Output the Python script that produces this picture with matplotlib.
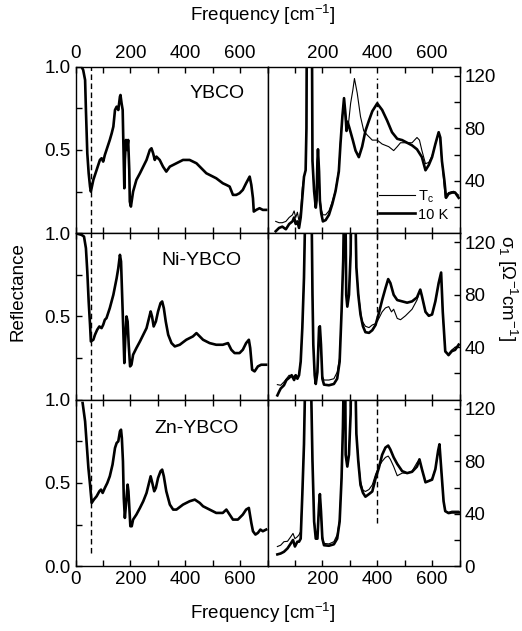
import matplotlib
matplotlib.use('Agg')
import matplotlib.pyplot as plt
from matplotlib.ticker import MultipleLocator, FixedLocator

plt.rcParams['font.family'] = ['Liberation Sans', 'DejaVu Sans']
plt.rcParams['mathtext.default'] = 'regular'

# reflectance (left column)
ybco_f = [4, 22, 28, 35, 38, 43, 48, 53, 56, 65, 77, 89, 95, 101, 107, 113, 125, 132, 138, 144,
          150, 156, 162, 164, 168, 172, 174, 178, 180, 184, 188, 192, 196, 198, 202, 210, 222, 235, 247, 259,
          271, 277, 283, 289, 295, 301, 307, 319, 331, 344, 368, 392, 404, 416, 441, 465, 477, 489, 513, 537,
          550, 562, 574, 586, 598, 610, 622, 635, 641, 647, 650, 659, 671, 683, 695]
ybco_r = [1.0, 1.0, 0.98, 0.92, 0.74, 0.48, 0.36, 0.28, 0.25, 0.32, 0.38, 0.44, 0.45, 0.43, 0.47, 0.5, 0.56, 0.6, 0.64, 0.74,
          0.76, 0.74, 0.82, 0.83, 0.78, 0.74, 0.58, 0.27, 0.44, 0.56, 0.5, 0.56, 0.38, 0.19, 0.16, 0.25, 0.32, 0.36, 0.4, 0.44,
          0.5, 0.51, 0.48, 0.44, 0.46, 0.45, 0.44, 0.4, 0.37, 0.4, 0.42, 0.44, 0.44, 0.44, 0.42, 0.38, 0.36, 0.35, 0.33, 0.3,
          0.29, 0.28, 0.23, 0.23, 0.24, 0.26, 0.3, 0.34, 0.29, 0.21, 0.13, 0.14, 0.15, 0.14, 0.14]

ni_f = [0, 22, 31, 38, 43, 48, 53, 56, 65, 71, 79, 87, 95, 101, 107, 113, 125, 138, 150, 156,
        162, 166, 170, 174, 178, 181, 186, 190, 194, 199, 204, 210, 222, 235, 247, 259, 268, 274, 279, 285,
        293, 301, 310, 316, 322, 329, 338, 350, 362, 380, 404, 428, 441, 453, 465, 489, 513, 537, 556, 568,
        580, 598, 610, 622, 632, 637, 644, 653, 665, 677, 695]
ni_r = [1.0, 0.99, 0.98, 0.91, 0.77, 0.59, 0.45, 0.35, 0.36, 0.39, 0.42, 0.44, 0.43, 0.45, 0.48, 0.49, 0.55, 0.63, 0.73, 0.79,
        0.87, 0.83, 0.63, 0.43, 0.22, 0.35, 0.5, 0.47, 0.33, 0.2, 0.21, 0.27, 0.31, 0.35, 0.39, 0.43, 0.49, 0.53, 0.5, 0.44,
        0.47, 0.53, 0.58, 0.59, 0.55, 0.47, 0.39, 0.34, 0.32, 0.33, 0.36, 0.38, 0.4, 0.38, 0.36, 0.34, 0.33, 0.33, 0.34, 0.3,
        0.28, 0.28, 0.3, 0.34, 0.36, 0.31, 0.18, 0.17, 0.2, 0.21, 0.21]

zn_f = [26, 35, 41, 47, 53, 59, 67, 77, 87, 93, 99, 107, 116, 125, 135, 144, 150, 156, 162, 166,
        169, 173, 176, 180, 184, 190, 193, 197, 200, 205, 210, 222, 235, 247, 259, 268, 274, 280, 287, 293,
        301, 310, 316, 322, 331, 344, 356, 368, 392, 416, 435, 453, 465, 489, 513, 537, 550, 562, 574, 592,
        610, 622, 632, 641, 647, 656, 665, 674, 683, 695]
zn_r = [0.98, 0.87, 0.73, 0.59, 0.49, 0.38, 0.4, 0.42, 0.45, 0.46, 0.44, 0.47, 0.5, 0.54, 0.61, 0.71, 0.74, 0.75, 0.81, 0.82,
        0.77, 0.63, 0.41, 0.29, 0.37, 0.49, 0.45, 0.33, 0.24, 0.24, 0.28, 0.31, 0.35, 0.39, 0.44, 0.5, 0.54, 0.5, 0.45, 0.47,
        0.53, 0.57, 0.58, 0.54, 0.45, 0.37, 0.34, 0.34, 0.37, 0.39, 0.4, 0.38, 0.36, 0.34, 0.32, 0.32, 0.34, 0.31, 0.28, 0.28,
        0.31, 0.34, 0.35, 0.26, 0.21, 0.19, 0.2, 0.22, 0.21, 0.22]

# optical conductivity (right column), thin = Tc, thick = 10 K
ybco_f_10k = [30, 42, 54, 67, 79, 91, 97, 103, 109, 115, 121, 125, 130, 133, 139, 142, 144, 151, 161, 164,
              170, 176, 179, 182, 184, 188, 191, 196, 202, 212, 224, 236, 248, 260, 266, 273, 279, 285, 288, 292,
              299, 311, 321, 333, 345, 357, 370, 382, 400, 418, 436, 454, 473, 491, 509, 527, 545, 563, 576, 588,
              600, 612, 624, 630, 636, 645, 651, 660, 672, 684, 697]
ybco_s_10k = [1.5, 4, 5, 3, 7, 9, 12, 7, 9, 4, 12, 22, 35, 43, 48, 80, 200, 250, 200, 55,
              32, 19.5, 25, 55, 64, 47, 25, 15, 9, 10, 14, 22, 32, 47, 68, 89, 103, 89, 78, 85,
              80, 71, 63, 58, 66, 78, 86, 93, 99, 94, 86, 77, 72, 71, 69, 67, 64, 58, 48, 52,
              58, 68, 77, 73, 55, 40, 27, 30, 31, 31, 27]
ybco_f_tc = [30, 42, 54, 67, 79, 91, 97, 103, 109, 115, 121, 127, 133, 139, 142, 144, 151, 161, 164, 170,
             176, 179, 182, 184, 188, 191, 196, 202, 212, 224, 236, 248, 260, 266, 273, 279, 285, 294, 303, 311,
             317, 327, 339, 351, 363, 382, 400, 418, 442, 460, 473, 485, 503, 527, 545, 554, 563, 576, 588, 600,
             612, 626, 636, 648, 660, 679, 697]
ybco_s_tc = [9, 8, 8, 9, 12, 14, 17, 12, 16, 9, 17, 35, 43, 48, 80, 200, 250, 200, 55, 32,
             21, 27, 55, 64, 48, 27, 18, 14, 14, 17, 24, 33, 49, 70, 90, 100, 84, 81, 99, 109,
             118, 107, 89, 78, 75, 71, 71, 68, 66, 63, 66, 69, 69, 69, 73, 71, 63, 53, 54, 59,
             68, 77, 55, 27, 31, 32, 29]

ni_f_10k = [36, 42, 48, 60, 69, 79, 88, 97, 103, 109, 115, 121, 127, 133, 139, 151, 160, 164, 167, 172,
            176, 182, 188, 191, 195, 200, 206, 224, 242, 254, 263, 270, 276, 280, 282, 287, 291, 297, 303, 306,
            311, 319, 324, 331, 339, 348, 357, 370, 382, 394, 406, 418, 430, 440, 448, 460, 473, 491, 509, 527,
            545, 557, 563, 576, 588, 600, 612, 624, 633, 639, 648, 660, 672, 684, 697]
ni_s_10k = [3.3, 6, 8.5, 11, 15, 16.7, 18.7, 15, 18.7, 16, 18.7, 29, 55, 93, 160, 250, 160, 80, 42, 18.7,
            12, 21, 55, 56, 42, 16, 11.5, 11, 12, 16, 29, 67, 106, 160, 200, 80, 71, 80, 111, 160,
            200, 160, 101, 80, 65, 56, 51.5, 51, 53, 57, 66, 76, 85, 92, 89, 80, 76, 75, 74, 75,
            78, 84, 79, 67, 64, 65, 75, 89, 97, 67, 37, 34, 37, 38, 42]
ni_f_tc = [36, 48, 60, 69, 79, 91, 100, 109, 115, 121, 127, 133, 139, 151, 160, 164, 167, 172, 176, 182,
           188, 191, 195, 200, 206, 224, 242, 254, 263, 270, 276, 280, 282, 287, 291, 297, 303, 306, 311, 319,
           324, 331, 339, 345, 357, 370, 382, 394, 406, 418, 430, 442, 452, 460, 473, 485, 503, 527, 545, 557,
           563, 576, 588, 600, 612, 624, 633, 639, 648, 660, 672, 684, 697]
ni_s_tc = [11.5, 11, 13.6, 16, 18.7, 17, 18.7, 16, 20, 30, 55, 93, 160, 250, 160, 80, 42, 20, 15, 23,
           55, 56, 42, 18, 15, 15, 16, 21, 32, 68, 106, 160, 200, 80, 71, 80, 111, 160, 200, 160,
           101, 82, 68, 60, 56, 55, 57, 58, 62, 67, 70, 71, 67, 69, 62, 61, 64, 69, 76, 84,
           79, 67, 64, 65, 75, 89, 96, 66, 36, 35, 38, 40, 41]

zn_f_cond = [36, 48, 60, 73, 85, 93, 100, 109, 115, 121, 127, 133, 139, 151, 157, 164, 170, 176, 182, 188,
             191, 195, 200, 206, 224, 242, 254, 263, 270, 275, 279, 282, 285, 291, 297, 303, 306, 311, 319, 324,
             331, 339, 348, 357, 370, 382, 394, 406, 418, 430, 440, 448, 460, 473, 491, 509, 527, 545, 554, 563,
             576, 588, 600, 612, 622, 627, 634, 642, 648, 660, 672, 691, 697]
zn_s_10k = [9, 9.7, 11, 13.6, 17.4, 20, 15, 18.7, 18.7, 21, 55, 93, 160, 250, 160, 80, 34, 21, 21, 47,
            55, 42, 21, 16, 15.6, 16.7, 21, 34, 67, 106, 160, 200, 85, 76, 85, 116, 160, 200, 160, 101,
            80, 62, 56, 53, 55, 57, 67, 75, 85, 90.5, 92, 89, 83, 78, 72.5, 71, 72, 76, 81.5, 74,
            64, 65, 66, 74, 88, 93, 72.5, 49.5, 42, 40.5, 41, 41, 41]
zn_s_tc = [15, 16, 18.7, 19, 22.5, 25, 21, 22.5, 24, 26.5, 55, 93, 160, 250, 160, 80, 36, 23, 23, 47,
           55, 42, 23, 17.4, 17, 18.7, 24, 36, 68, 106, 160, 200, 85, 76, 85, 116, 160, 200, 160, 101,
           82, 65, 58, 57, 58.5, 62, 70, 76, 80, 83, 84, 81.5, 76, 69, 71, 71, 72.5, 79, 81.5, 74,
           64, 65, 67, 74, 87, 92, 72, 49, 42, 41, 42, 42, 42]

sample_names = ['YBCO', 'Ni-YBCO', 'Zn-YBCO']
name_pos = [(515, 0.84), (460, 0.835), (441, 0.83)]
# dashed markers: frequency, (ymin, ymax)
refl_dash_f = 57
refl_dash_y = [(0.0, 1.0), (0.0, 1.0), (0.08, 1.0)]
cond_dash_f = 400
cond_dash_y = [(0, 118), (60, 127), (33, 127)]

refl_data = [(ybco_f, ybco_r), (ni_f, ni_r), (zn_f, zn_r)]
cond_data = [(ybco_f_tc, ybco_s_tc, ybco_f_10k, ybco_s_10k),
             (ni_f_tc, ni_s_tc, ni_f_10k, ni_s_10k),
             (zn_f_cond, zn_s_tc, zn_f_cond, zn_s_10k)]

W, H = 522, 631
fig = plt.figure(figsize=(W / 100, H / 100), dpi=100)

x_left, x_right, pw = 75.5, 267.5, 192
top, ph = 66.7, 166.5
thin, thick = 0.8, 1.9
fs = 13.5


def style(ax, row, side):
    ax.set_xlim(0, 700)
    ax.xaxis.set_major_locator(MultipleLocator(200))
    ax.xaxis.set_minor_locator(MultipleLocator(100))
    ax.tick_params(which='both', direction='in', length=4, width=1, labelsize=fs,
                   top=True, bottom=True, left=(side == 'l'), right=(side == 'r'),
                   labelleft=(side == 'l'), labelright=(side == 'r'),
                   labeltop=(row == 0), labelbottom=(row == 2))
    for s in ax.spines.values():
        s.set_linewidth(1.0)
    if side == 'r':
        ax.set_xticks([200, 400, 600])


for row in range(3):
    b = 1 - (top + ph * (row + 1)) / H
    axl = fig.add_axes([x_left / W, b, pw / W, ph / H])
    axr = fig.add_axes([x_right / W, b, pw / W, ph / H])

    f, r = refl_data[row]
    axl.plot(f, r, color='black', lw=thick)
    axl.set_ylim(0, 1.0)
    axl.yaxis.set_major_locator(FixedLocator([0.0, 0.5, 1.0] if row == 2 else [0.5, 1.0]))
    axl.yaxis.set_minor_locator(FixedLocator([0.25, 0.75]))
    axl.yaxis.set_major_formatter(lambda v, p: f'{v:.1f}')
    lo, hi = refl_dash_y[row]
    axl.plot([refl_dash_f, refl_dash_f], [lo, hi], color='black', lw=1.0, ls=(0, (4, 2.5)))
    axl.text(name_pos[row][0], name_pos[row][1], sample_names[row], fontsize=fs + 0.5,
             ha='center', va='center')
    style(axl, row, 'l')

    ft, st, fk, sk = cond_data[row]
    axr.plot(ft, st, color='black', lw=thin, label='T$_c$')
    axr.plot(fk, sk, color='black', lw=thick, label='10 K')
    axr.set_ylim(0, 127)
    axr.yaxis.set_major_locator(FixedLocator([0, 40, 80, 120] if row == 2 else [40, 80, 120]))
    axr.yaxis.set_minor_locator(FixedLocator([20, 60, 100]))
    lo, hi = cond_dash_y[row]
    axr.plot([cond_dash_f, cond_dash_f], [lo, hi], color='black', lw=1.0, ls=(0, (4, 2.5)))
    style(axr, row, 'r')
    if row == 0:
        axr.legend(loc='lower right', bbox_to_anchor=(1.0, 0.0), frameon=False, fontsize=10.5,
                   handlelength=2.5, handletextpad=0.15, labelspacing=0.2, borderpad=0.3)

fig.text(263 / W, 1 - 15 / H, 'Frequency [cm$^{-1}$]', fontsize=fs, ha='center', va='center')
fig.text(263 / W, 1 - 613 / H, 'Frequency [cm$^{-1}$]', fontsize=fs, ha='center', va='center')
fig.text(18 / W, 1 - 292 / H, 'Reflectance', fontsize=fs, ha='center', va='center', rotation=90)
fig.text(507 / W, 1 - 288 / H, 'σ$_1$ [Ω$^{-1}$cm$^{-1}$]', fontsize=fs, ha='center', va='center',
         rotation=270)

fig.savefig('out.png', dpi=100)
